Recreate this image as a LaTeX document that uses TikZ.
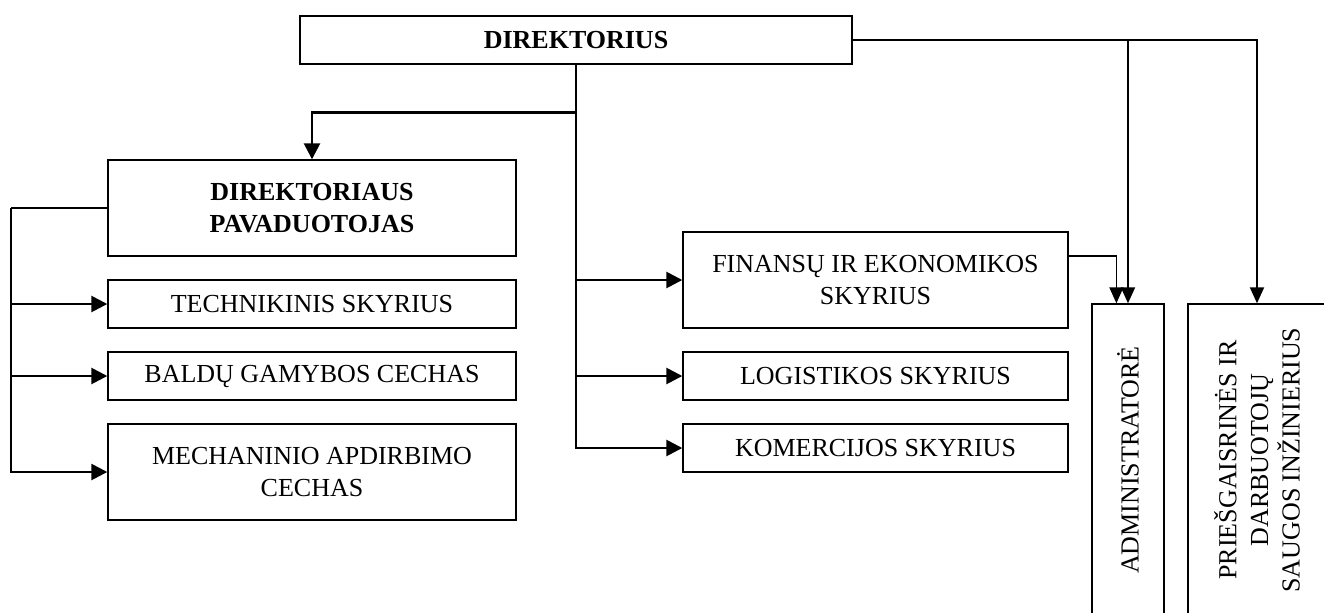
\documentclass[tikz,border=0pt]{standalone}
\usepackage{fontspec}
\setmainfont{Liberation Serif}
\usetikzlibrary{arrows.meta}

\begin{document}
\begin{tikzpicture}[x=0.5pt,y=-0.5pt,
    font=\fontsize{13}{15.8}\selectfont,
    unit/.style={draw,line width=0.7pt,align=center,inner sep=2pt},
    bold/.style={font=\fontsize{13}{15.8}\selectfont\bfseries},
    leftcol/.style={unit,minimum width=204pt},
    rightcol/.style={unit,minimum width=192.5pt},
    upright/.style={unit,rotate=90,minimum width=156pt},
    link/.style={line width=1.3pt,-{Triangle[length=8pt,width=8pt]}},
    thin link/.style={link,line width=1pt,-{Triangle[length=8pt,width=7pt]}}]
  \useasboundingbox (0,0) rectangle (1324,612);
  \clip (0,0) rectangle (1324,612);
  % director and deputy
  \node[unit,bold,minimum width=276pt,minimum height=24pt] (dir) at (576,40) {DIREKTORIUS};
  \node[leftcol,bold,minimum height=48pt] (dep) at (312,208) {DIREKTORIAUS\\PAVADUOTOJAS};
  % left column
  \node[leftcol,minimum height=24pt] (tech) at (312,304) {TECHNIKINIS SKYRIUS};
  \node[leftcol,minimum height=24pt] (bald) at (312,376) {BALDŲ GAMYBOS CECHAS};
  \node[leftcol,minimum height=48pt] (mech) at (312,472) {MECHANINIO APDIRBIMO\\CECHAS};
  % right column
  \node[rightcol,minimum height=48pt] (fin) at (875.5,280) {FINANSŲ IR EKONOMIKOS\\SKYRIUS};
  \node[rightcol,minimum height=24pt] (log) at (875.5,376) {LOGISTIKOS SKYRIUS};
  \node[rightcol,minimum height=24pt] (kom) at (875.5,448) {KOMERCIJOS SKYRIUS};
  % upright boxes
  \node[upright,minimum height=36pt] (adm) at (1128,460) {ADMINISTRATORĖ};
  \node[upright,minimum height=69pt] (saug) at (1257,460) {PRIEŠGAISRINĖS IR\\DARBUOTOJŲ\\SAUGOS INŽINIERIUS};
  % middle bus
  \draw[link] (dir.south) |- (kom.west);
  \draw[link] (dir.south |- fin.west) -- (fin.west);
  \draw[link] (dir.south |- log.west) -- (log.west);
  \draw[link] ([yshift=-24pt]dir.south) -| (dep.north);
  % left bus
  \coordinate (lbus) at (11,208);
  \draw[line width=1.3pt] (dep.west) -- (lbus);
  \draw[link] (lbus) |- (mech.west);
  \draw[link] (lbus |- tech.west) -- (tech.west);
  \draw[link] (lbus |- bald.west) -- (bald.west);
  % right side
  \draw[thin link] (dir.east) -| (saug.east);
  \draw[thin link] (dir.east -| adm.east) -- (adm.east);
  \draw[thin link,line width=0.7pt] ([yshift=12pt]fin.east) -| ([xshift=-5.8pt]adm.east);
\end{tikzpicture}
\end{document}
